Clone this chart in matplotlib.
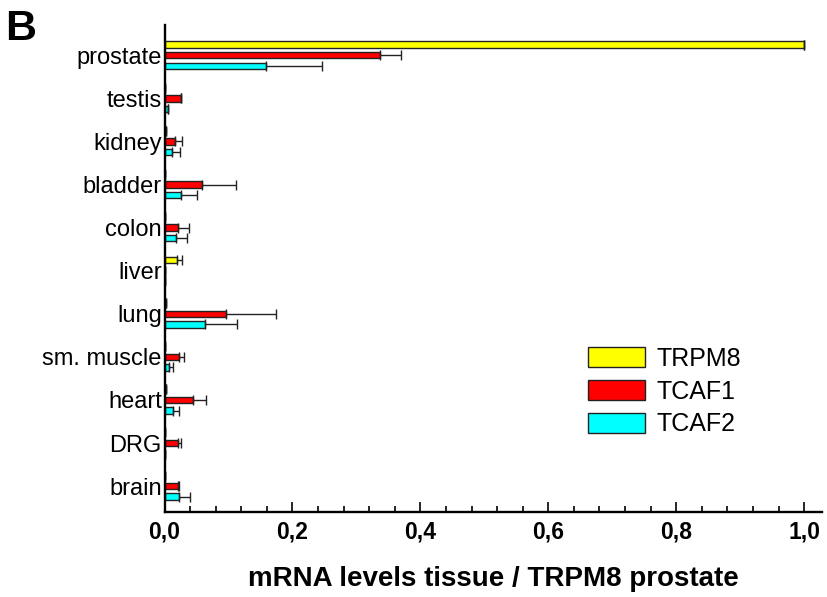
import numpy as np
import matplotlib
matplotlib.use("Agg")
import matplotlib.pyplot as plt
from matplotlib.ticker import MultipleLocator, FuncFormatter

plt.rcParams['font.family'] = ['Liberation Sans', 'DejaVu Sans']

# tissues, top to bottom
tissues = ['prostate', 'testis', 'kidney', 'bladder', 'colon', 'liver',
           'lung', 'sm. muscle', 'heart', 'DRG', 'brain']

# mean mRNA level relative to TRPM8 in prostate
trpm8 = [1.0, 0.001, 0.002, 0.0, 0.0, 0.019, 0.003, 0.0, 0.003, 0.001, 0.001]
tcaf1 = [0.337, 0.026, 0.016, 0.058, 0.021, 0.001, 0.096, 0.022, 0.044, 0.021, 0.021]
tcaf2 = [0.158, 0.005, 0.012, 0.026, 0.018, 0.001, 0.063, 0.007, 0.013, 0.001, 0.022]

# upper error (one-sided)
trpm8_err = [0.0, 0.0, 0.0, 0.0, 0.0, 0.009, 0.0, 0.0, 0.0, 0.0, 0.0]
tcaf1_err = [0.033, 0.0, 0.012, 0.053, 0.017, 0.0, 0.079, 0.009, 0.021, 0.005, 0.001]
tcaf2_err = [0.088, 0.0, 0.012, 0.024, 0.017, 0.0, 0.05, 0.006, 0.010, 0.0, 0.017]

series = [('TRPM8', trpm8, trpm8_err, '#ffff00', -0.245),
          ('TCAF1', tcaf1, tcaf1_err, '#ff0000', 0.0),
          ('TCAF2', tcaf2, tcaf2_err, '#00ffff', 0.245)]

fig = plt.figure(figsize=(8.27, 5.97), dpi=100)
ax = fig.add_axes([0.199, 0.1424, 0.795, 0.8156])

y = np.arange(len(tissues))
for name, vals, err, col, off in series:
    ax.barh(y + off, vals, height=0.15, color=col, edgecolor='#222222',
            linewidth=1.0, label=name,
            xerr=[np.zeros(len(err)), err],
            error_kw=dict(ecolor='#222222', elinewidth=1.0, capsize=3.5, capthick=1.0))

ax.set_ylim(10.6, -0.7)
ax.set_xlim(0, 1.028)
ax.set_yticks(y)
ax.set_yticklabels(tissues, fontsize=17)
ax.tick_params(axis='y', length=0, pad=2)

ax.xaxis.set_major_locator(MultipleLocator(0.2))
ax.xaxis.set_minor_locator(MultipleLocator(0.04))
ax.xaxis.set_major_formatter(FuncFormatter(lambda v, p: ('%.1f' % v).replace('.', ',')))
ax.tick_params(axis='x', which='major', direction='in', length=7.5, width=1.2,
               labelsize=16.5, pad=6)
ax.tick_params(axis='x', which='minor', direction='in', length=4, width=1.2)
for lbl in ax.get_xticklabels():
    lbl.set_fontweight('bold')

for s in ['top', 'right']:
    ax.spines[s].set_visible(False)
for s in ['left', 'bottom']:
    ax.spines[s].set_linewidth(1.7)

ax.set_xlabel('mRNA levels tissue / TRPM8 prostate', fontsize=20,
              fontweight='bold', labelpad=16)

ax.legend(loc='upper left', bbox_to_anchor=(0.625, 0.365), frameon=False,
          fontsize=18, handlelength=2.3, handleheight=0.85,
          labelspacing=0.35, handletextpad=0.45, borderpad=0)

fig.text(0.006, 0.985, 'B', fontsize=31, fontweight='bold', va='top', ha='left')

fig.savefig('out.png', dpi=100)
